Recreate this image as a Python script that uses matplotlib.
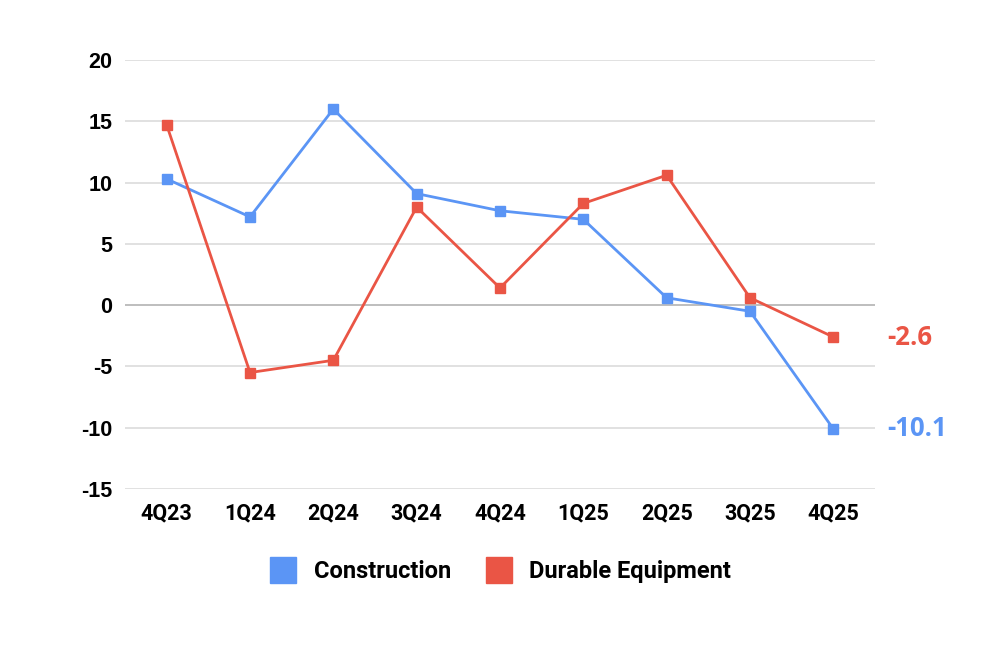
import matplotlib
matplotlib.use("Agg")
import matplotlib.pyplot as plt
from matplotlib.lines import Line2D

quarters = ["4Q23", "1Q24", "2Q24", "3Q24", "4Q24", "1Q25", "2Q25", "3Q25", "4Q25"]
construction = [10.3, 7.2, 16.0, 9.1, 7.7, 7.0, 0.6, -0.5, -10.1]
durable = [14.7, -5.5, -4.5, 8.0, 1.4, 8.3, 10.6, 0.6, -2.6]
yticks = [20, 15, 10, 5, 0, -5, -10, -15]

blue = "#5B95F5"
red = "#EA5545"

fig = plt.figure(figsize=(9.97, 6.64), dpi=100)
ax = fig.add_axes([0.1254, 0.2636, 0.7522, 0.646])

x = list(range(len(quarters)))
ax.plot(x, construction, color=blue, lw=2.0, marker="s", ms=7, zorder=3)
ax.plot(x, durable, color=red, lw=2.0, marker="s", ms=7, zorder=3)

ax.set_xlim(-0.5, len(quarters) - 0.5)
ax.set_ylim(-15, 20)
ax.set_yticks(yticks)
ax.set_xticks(x)
ax.set_xticklabels(quarters, fontfamily="Roboto", fontweight="bold", fontsize=15.5)
ax.set_yticklabels([str(v) for v in yticks], fontfamily="Liberation Sans", fontweight="bold", fontsize=15.5)
ax.tick_params(length=0, pad=9)
ax.tick_params(axis="x", pad=10)

for v in yticks:
    if v == 0:
        ax.axhline(v, color="#b3b3b3", lw=1.2, zorder=1)
    else:
        ax.axhline(v, color="#dcdcdc", lw=1.2, zorder=1)
for s in ax.spines.values():
    s.set_visible(False)

# labels at the last point
ax.annotate(f"{durable[-1]}", (x[-1], durable[-1]), xytext=(39, 0), textcoords="offset points",
            color=red, fontsize=18.5, fontweight="bold", fontfamily="Open Sans", va="center", ha="left")
ax.annotate(f"{construction[-1]}", (x[-1], construction[-1]), xytext=(39, 0), textcoords="offset points",
            color=blue, fontsize=18.5, fontweight="bold", fontfamily="Open Sans", va="center", ha="left")

handles = [Line2D([], [], color=blue, marker="s", ls="none", ms=19),
           Line2D([], [], color=red, marker="s", ls="none", ms=19)]
fig.legend(handles, ["Construction", "Durable Equipment"], loc="center", bbox_to_anchor=(0.497, 0.139),
           ncol=2, frameon=False, handletextpad=0.3, columnspacing=1.0,
           prop={"family": "Roboto", "weight": "bold", "size": 17})

fig.savefig("out.png", dpi=100)
